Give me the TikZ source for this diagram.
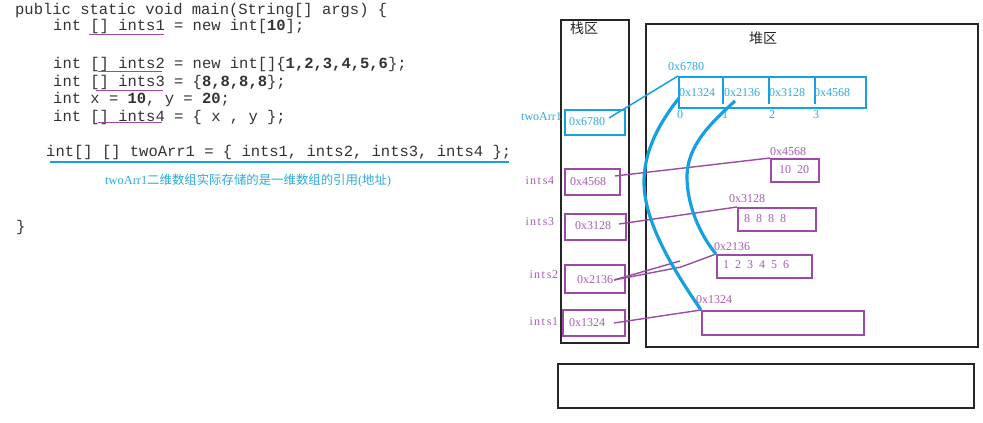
\documentclass[tikz,border=0pt]{standalone}
\usepackage{fontspec}
\setmainfont{Liberation Serif}
\setmonofont{Liberation Mono}
\newfontfamily\cjk{Noto Sans CJK SC}
\newfontfamily\lbl{Liberation Serif}
\definecolor{blueC}{RGB}{20,160,225}
\definecolor{blueT}{RGB}{45,170,220}
\definecolor{purpC}{RGB}{155,75,165}
\definecolor{purpT}{RGB}{165,95,175}
\newcommand\fixw[1]{\fixwloop#1\relax}
\def\fixwloop#1{\ifx#1\relax\else\makebox[6pt]{#1}\expandafter\fixwloop\fi}
\begin{document}
\begin{tikzpicture}[x=1pt,y=-1pt,
  code/.style={font=\ttfamily\fontsize{15.5}{18}\selectfont, text=black!80, inner sep=0, anchor=base west},
  region/.style={draw=black!85, line width=1.7pt, inner sep=0, anchor=north west},
  bcell/.style={draw=blueC, line width=1.8pt, inner sep=0, anchor=north west},
  pcell/.style={draw=purpC, line width=1.6pt, inner sep=0, anchor=north west},
  btext/.style={font=\lbl\fontsize{12}{14}\selectfont, text=blueT, inner sep=0, anchor=west},
  ptext/.style={font=\lbl\fontsize{12}{14}\selectfont, text=purpT, inner sep=0, anchor=west},
  cjkt/.style={font=\cjk\fontsize{14}{16}\selectfont, text=black!85, inner sep=0},
  uline/.style={draw=purpC, line width=1.3pt},
  bline/.style={draw=blueC, line width=1.6pt},
  bconn/.style={draw=blueC, line width=1.5pt},
  bthick/.style={draw=blueC, line width=3.2pt},
  pconn/.style={draw=purpC, line width=1.4pt}
]
\useasboundingbox (0,0) rectangle (983,423);
\fill[white] (0,0) rectangle (983,423);

% code
\node[code] (l1) at (15,14) {public static void main(String[] args) \{};
\node[code] (l2) at (53,30) {int [] ints1 = new int[\textbf{10}];};
\node[code] (l4) at (53,68) {int [] ints2 = new int[]\{\textbf{1,2,3,4,5,6}\};};
\node[code] (l5) at (53,86) {int [] ints3 = \{\textbf{8,8,8,8}\};};
\node[code] (l6) at (53,103) {int x = \textbf{10}, y = \textbf{20};};
\node[code] (l7) at (53,121) {int [] ints4 = \{ x , y \};};
\node[code] (l9) at (46,156) {int[] [] twoArr1 = \{ ints1, ints2, ints3, ints4 \};};
\node[code] (l10) at (16,231) {\}};

\draw[uline] (89,34.5) -- (164,34.5);
\draw[uline] (98,71.5) -- (162,71.5);
\draw[uline] (96,90.5) -- (163,90.5);
\draw[uline] (98,122.5) -- (162,122.5);
\draw[draw=blueC, line width=1.5pt] (50,162) -- (509,162);

\node[anchor=base west, inner sep=0, text=blueT, font=\fontsize{12.4}{14}\selectfont] (note) at (105,184)
  {{\lbl twoArr1}{\cjk 二维数组实际存储的是一维数组的引用}{\lbl (}{\cjk 地址}{\lbl )}};

% regions
\node[region, minimum width=68pt, minimum height=323pt] (stack) at (560,19) {};
\node[region, minimum width=332pt, minimum height=323pt] (heap) at (645,23) {};
\node[region, minimum width=416pt, minimum height=44pt] (bottom) at (557,363) {};
\node[cjkt] (stacklbl) at (584,28) {栈区};
\node[cjkt] (heaplbl) at (763,38) {堆区};

% stack cells
\node[bcell, line width=2.2pt, minimum width=60pt, minimum height=25pt] (c0) at (564,109) {};
\node[btext] (c0t) at (569,122) {\fixw{0x6780}};
\node[btext] (c0l) at (521,117) {twoArr1};
\node[pcell, minimum width=55pt, minimum height=26pt] (c4) at (564,168) {};
\node[ptext] (c4t) at (570,182) {\fixw{0x4568}};
\node[ptext] (c4l) at (524,181) {\fixw{ints4}};
\node[pcell, minimum width=61pt, minimum height=26pt] (c3) at (564,213) {};
\node[ptext] (c3t) at (575,226) {\fixw{0x3128}};
\node[ptext] (c3l) at (524,222) {\fixw{ints3}};
\node[pcell, minimum width=60pt, minimum height=28pt] (c2) at (564,264) {};
\node[ptext] (c2t) at (577,280) {\fixw{0x2136}};
\node[ptext] (c2l) at (528,275) {\fixw{ints2}};
\node[pcell, minimum width=62pt, minimum height=26pt] (c1) at (562,309) {};
\node[ptext] (c1t) at (569,323) {\fixw{0x1324}};
\node[ptext] (c1l) at (528,322) {\fixw{ints1}};

% heap: array of references
\node[bcell, minimum width=187pt, minimum height=31pt] (arr) at (678,76) {};
\draw[bline] (723,76) -- (723,104);
\draw[bline] (769,76) -- (769,104);
\draw[bline] (815,76) -- (815,104);
\node[btext] (arrl) at (668,67) {\fixw{0x6780}};
\node[btext] (a0) at (679,93) {\fixw{0x1324}};
\node[btext] (a1) at (724,93) {\fixw{0x2136}};
\node[btext] (a2) at (769,93) {\fixw{0x3128}};
\node[btext] (a3) at (814,93) {\fixw{0x4568}};
\node[btext] (i0) at (677,115) {\fixw{0}};
\node[btext] (i1) at (722,115) {\fixw{1}};
\node[btext] (i2) at (769,115) {\fixw{2}};
\node[btext] (i3) at (813,115) {\fixw{3}};

% heap: int arrays
\node[pcell, minimum width=48pt, minimum height=23pt] (h4) at (770,158) {};
\node[ptext] (h4l) at (770,152) {\fixw{0x4568}};
\node[ptext] (h4t) at (779,170) {\fixw{10~20}};
\node[pcell, minimum width=78pt, minimum height=23pt] (h3) at (737,207) {};
\node[ptext] (h3l) at (729,199) {\fixw{0x3128}};
\node[ptext] (h3t) at (744,219) {\fixw{8~8~8~8}};
\node[pcell, minimum width=95pt, minimum height=23pt] (h2) at (716,254) {};
\node[ptext] (h2l) at (714,247) {\fixw{0x2136}};
\node[ptext] (h2t) at (723,265) {\fixw{1~2~3~4~5~6}};
\node[pcell, minimum width=162pt, minimum height=24pt] (h1) at (701,310) {};
\node[ptext] (h1l) at (696,300) {\fixw{0x1324}};

% connectors
\coordinate (s0) at (609,118);
\draw[bconn] (s0) -- (arr.north west);
\coordinate (s4) at (615,176);
\draw[pconn] (s4) -- (h4.north west);
\coordinate (s3) at (619,224);
\draw[pconn] (s3) -- (h3.north west);
\coordinate (s2) at (614,280);
\coordinate (m2a) at (680,261);
\coordinate (m2b) at (681,267);
\draw[pconn] (s2) -- (m2a);
\draw[pconn] (s2) -- (m2b) -- (h2.north west);
\coordinate (s1) at (614,323);
\draw[pconn] (s1) -- (h1.north west);

\coordinate (p0) at (679,98);
\coordinate (p1) at (735,101);
\draw[bthick] (p0) .. controls (660,122) and (644,150) .. (644,182)
  .. controls (644,220) and (670,265) .. (h1.north west);
\draw[bthick] (p1) .. controls (712,122) and (687,145) .. (687,177)
  .. controls (687,205) and (700,235) .. (h2.north west);
\end{tikzpicture}
\end{document}
